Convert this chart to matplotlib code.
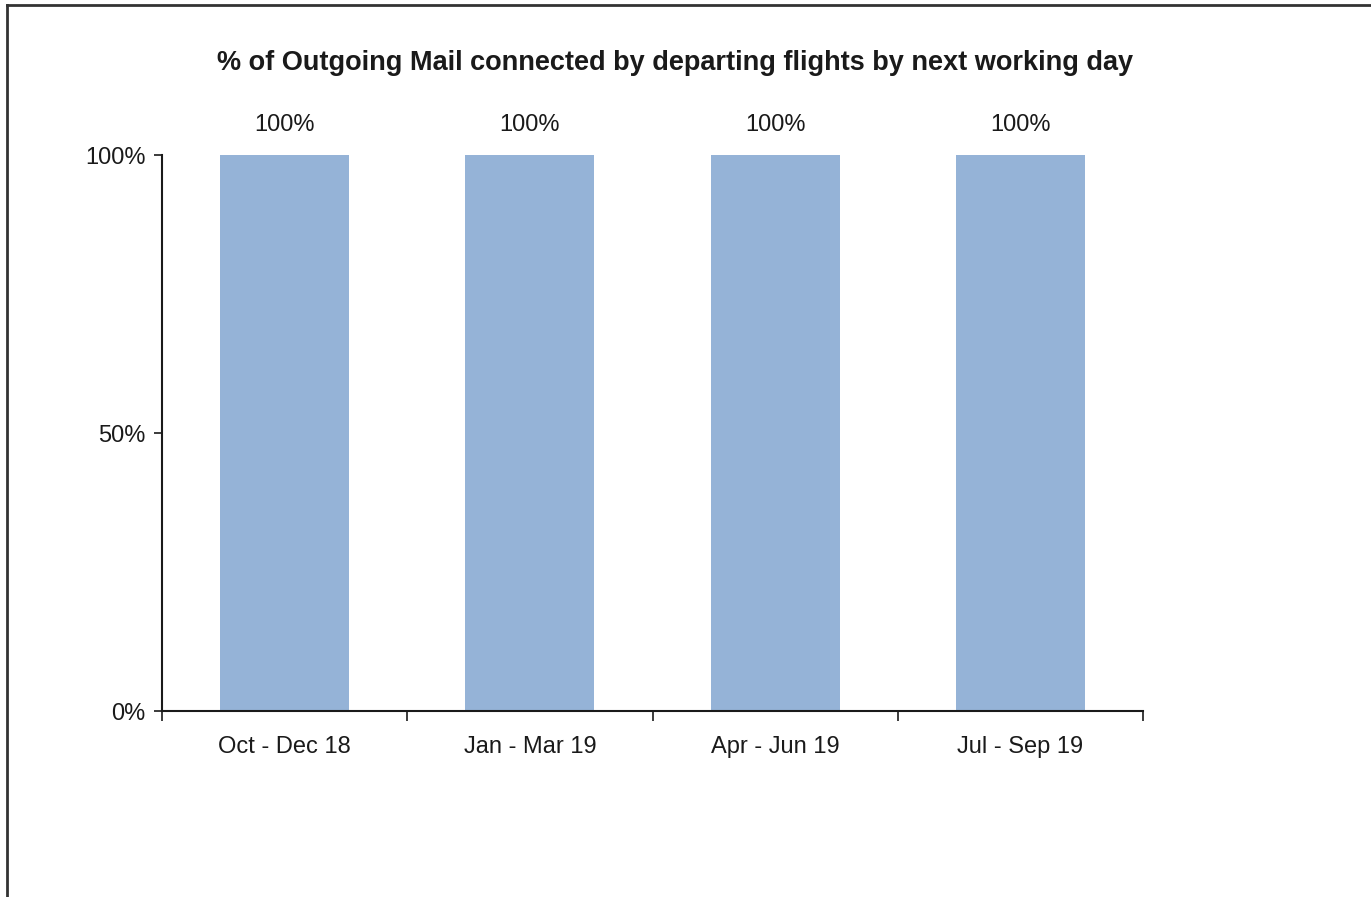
import matplotlib
matplotlib.use("Agg")
import matplotlib.pyplot as plt
import matplotlib.ticker as mticker
from matplotlib.lines import Line2D
import numpy as np

quarters = ["Oct - Dec 18", "Jan - Mar 19", "Apr - Jun 19", "Jul - Sep 19"]
connected_pct = [1.00, 1.00, 1.00, 1.00]
bar_labels = ["100%", "100%", "100%", "100%"]
y_ticks = [0, 0.5, 1.0]

BAR = "#95B3D7"
INK = "#1a1a1a"
FONT = ["Liberation Sans Narrow", "Liberation Sans", "DejaVu Sans"]

plt.rcParams["font.family"] = FONT

fig = plt.figure(figsize=(13.71, 8.97), dpi=100)
ax = fig.add_axes([162 / 1371, 1 - 711 / 897, (1143 - 162) / 1371, (711 - 155) / 897])

x = np.arange(len(quarters))
ax.bar(x, connected_pct, width=0.525, color=BAR, zorder=2)
for xi, v, lab in zip(x, connected_pct, bar_labels):
    ax.annotate(lab, xy=(xi, v), xytext=(0, 14), textcoords="offset points",
                ha="center", va="bottom", fontsize=17, color=INK)

ax.set_xlim(-0.5, len(quarters) - 0.5)
ax.set_ylim(0, 1.0)
ax.set_yticks(y_ticks)
ax.yaxis.set_major_formatter(mticker.PercentFormatter(xmax=1, decimals=0))
ax.tick_params(axis="y", direction="out", length=6, width=1.2, colors=INK,
               labelsize=17, pad=6)

# category labels centred, tick marks on the category boundaries
ax.set_xticks(x)
ax.set_xticklabels(quarters, fontsize=17, color=INK)
ax.tick_params(axis="x", which="major", length=0, pad=18)
ax.set_xticks(np.arange(len(quarters) + 1) - 0.5, minor=True)
ax.tick_params(axis="x", which="minor", direction="out", length=7, width=1.2, color=INK)

for side in ["top", "right"]:
    ax.spines[side].set_visible(False)
for side in ["left", "bottom"]:
    ax.spines[side].set_color(INK)
    ax.spines[side].set_linewidth(1.5)

fig.text(675 / 1371, 1 - 63 / 897,
         "% of Outgoing Mail connected by departing flights by next working day",
         ha="center", va="center", fontsize=19.5, fontweight="bold", color=INK)

# frame of the original slide, only top and left edges visible
fig.add_artist(Line2D([7 / 1371, 1.0], [1 - 5 / 897, 1 - 5 / 897],
                      transform=fig.transFigure, color="#333333", linewidth=2))
fig.add_artist(Line2D([7 / 1371, 7 / 1371], [0.0, 1 - 5 / 897],
                      transform=fig.transFigure, color="#333333", linewidth=2))

fig.savefig("out.png", dpi=100, facecolor="white")
